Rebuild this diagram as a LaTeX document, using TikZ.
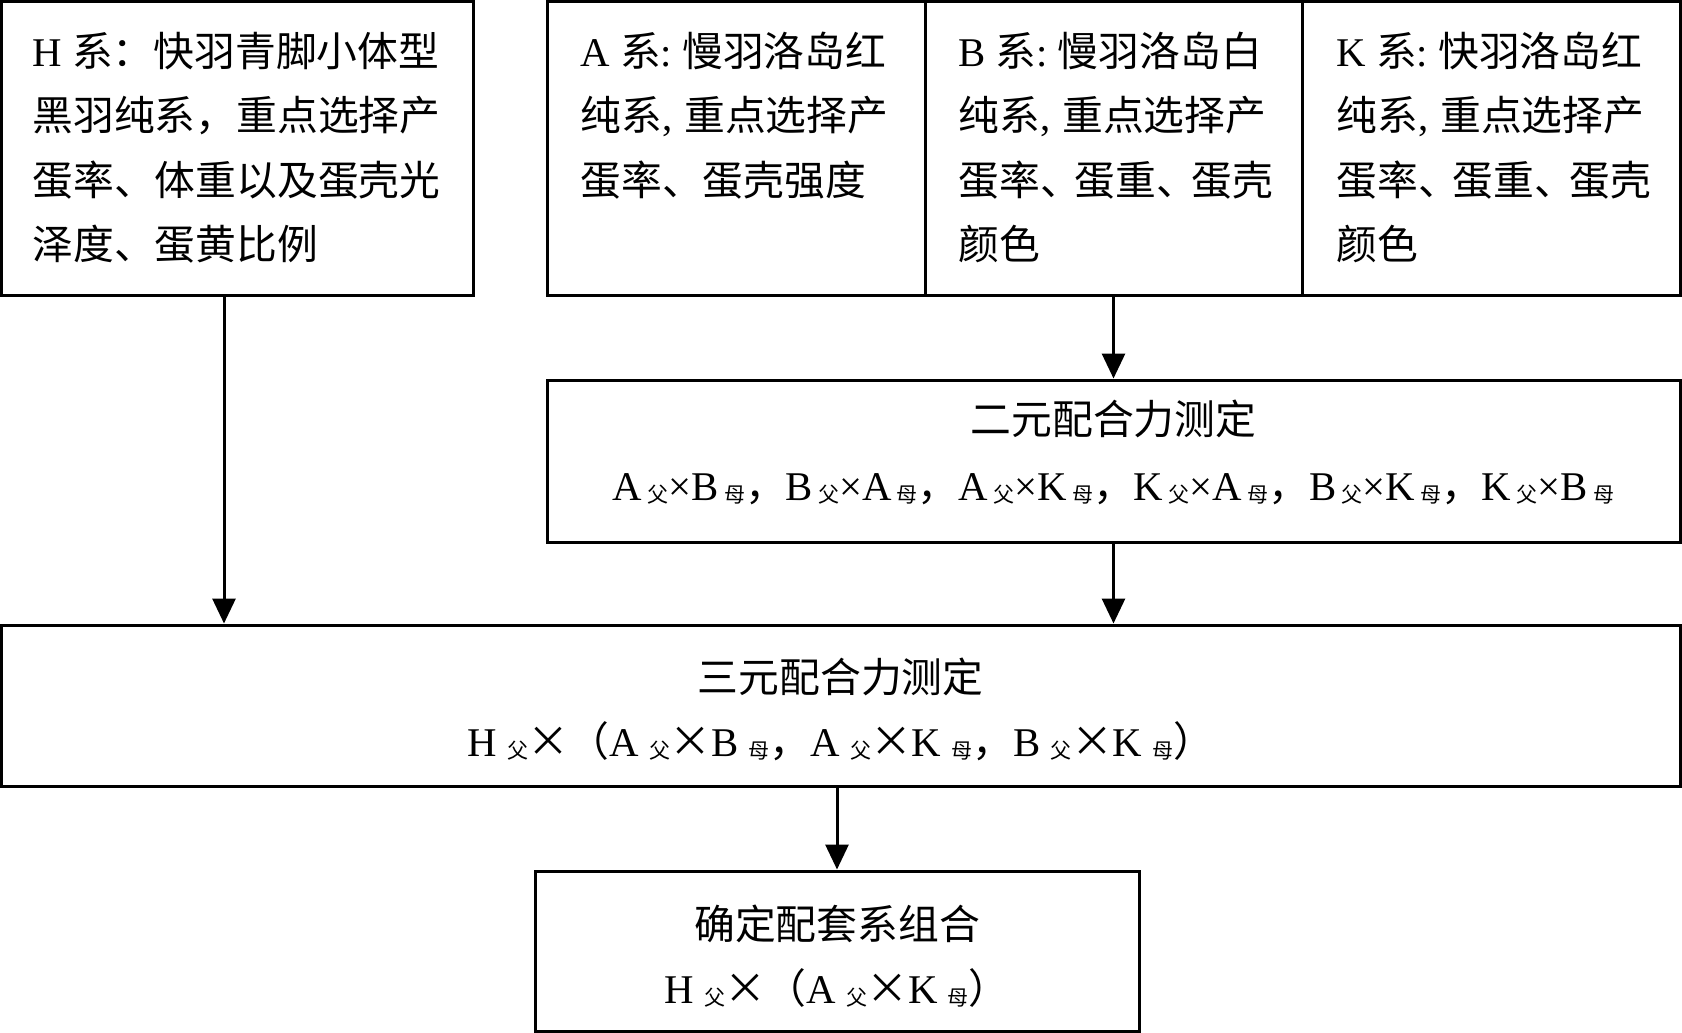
\documentclass[tikz,border=0pt]{standalone}
\usepackage{fontspec}
\setmainfont{Liberation Serif}
\newfontfamily\cjk{Noto Sans CJK SC}
\usetikzlibrary{arrows.meta}
\newcommand\zh[1]{{\cjk #1}}
\newcommand\sfu{\raisebox{-1.2pt}{\fontsize{10.5pt}{10.5pt}\selectfont\cjk 父}}
\newcommand\smu{\raisebox{-1.2pt}{\fontsize{10.5pt}{10.5pt}\selectfont\cjk 母}}
\newcommand\bigX{\makebox[20.4pt]{\fontsize{21pt}{21pt}\selectfont\cjk ×}}
\newcommand\tsp{\hspace{2.6pt}}
\tikzset{
  box/.style={draw, line width=1.5pt, inner sep=0pt, fill=none},
  txt/.style={anchor=base west, inner sep=0pt, font=\fontsize{20.4pt}{24pt}\selectfont},
  ctxt/.style={anchor=base, inner sep=0pt, font=\fontsize{20.4pt}{24pt}\selectfont},
  arr/.style={line width=1.5pt, -{Triangle[length=12.5pt,width=11.5pt]}}
}
\begin{document}
\begin{tikzpicture}[x=0.5pt,y=-0.5pt]
\useasboundingbox (0,0) rectangle (1682,1033);
% boxes
\node[box, minimum width=235.75pt, minimum height=146.75pt] (hbox) at (237.25,148.25) {};
\node[box, minimum width=189pt, minimum height=146.75pt] (abox) at (736,148.25) {};
\node[box, minimum width=188.5pt, minimum height=146.75pt] (bbox) at (1113.5,148.25) {};
\node[box, minimum width=189pt, minimum height=146.75pt] (kbox) at (1491,148.25) {};
\node[box, minimum width=566.5pt, minimum height=81pt] (bin) at (1113.5,461) {};
\node[box, minimum width=839.25pt, minimum height=80.5pt] (ter) at (840.75,705.5) {};
\node[box, minimum width=302pt, minimum height=80.25pt] (fin) at (837,951.25) {};
% H box text
\node[txt] (h1) at (32,66) {H \zh{系：快羽青脚小体型}};
\node[txt] (h2) at (32,130) {\zh{黑羽纯系，重点选择产}};
\node[txt] (h3) at (32,195) {\zh{蛋率、体重以及蛋壳光}};
\node[txt] (h4) at (32,259) {\zh{泽度、蛋黄比例}};
% A box text
\node[txt] (a1) at (580,66) {A \zh{系}:\hspace{5pt}\zh{慢羽洛岛红}};
\node[txt] (a2) at (580,130) {\zh{纯系},\hspace{6pt}\zh{重点选择产}};
\node[txt] (a3) at (580,195) {\zh{蛋率、蛋壳强度}};
% B box text
\node[txt] (b1) at (958,66) {B \zh{系}:\hspace{5pt}\zh{慢羽洛岛白}};
\node[txt] (b2) at (958,130) {\zh{纯系},\hspace{6pt}\zh{重点选择产}};
\node[txt] (b3) at (958,195) {\zh{蛋率、\hspace{-3pt}蛋重、\hspace{-3pt}蛋壳}};
\node[txt] (b4) at (958,259) {\zh{颜色}};
% K box text
\node[txt] (k1) at (1336,66) {K \zh{系}:\hspace{5pt}\zh{快羽洛岛红}};
\node[txt] (k2) at (1336,130) {\zh{纯系},\hspace{6pt}\zh{重点选择产}};
\node[txt] (k3) at (1336,195) {\zh{蛋率、\hspace{-3pt}蛋重、\hspace{-3pt}蛋壳}};
\node[txt] (k4) at (1336,259) {\zh{颜色}};
% binary
\node[ctxt] (bint) at (1113.5,434.5) {\zh{二元配合力测定}};
\node[ctxt] (binl) at (1113.5,500) {A\tsp\sfu×B\tsp\smu\zh{，}B\tsp\sfu×A\tsp\smu\zh{，}A\tsp\sfu×K\tsp\smu\zh{，}K\tsp\sfu×A\tsp\smu\zh{，}B\tsp\sfu×K\tsp\smu\zh{，}K\tsp\sfu×B\tsp\smu};
% ternary
\node[ctxt] (tert) at (840.75,692) {\zh{三元配合力测定}};
\node[ctxt] (terl) at (840.75,756) {H \sfu\bigX\zh{（}A \sfu\bigX B \smu\zh{，}A \sfu\bigX K \smu\zh{，}B \sfu\bigX K \smu\zh{）}};
% final
\node[ctxt] (fint) at (837,939) {\zh{确定配套系组合}};
\node[ctxt] (finl) at (837,1003) {H \sfu\bigX\zh{（}A \sfu\bigX K \smu\zh{）}};
% arrows
\coordinate (hx) at (224,0);
\draw[arr] (hx |- hbox.south) -- (hx |- ter.north);
\draw[arr] (bbox.south) -- (bin.north);
\draw[arr] (bin.south) -- (bin.south |- ter.north);
\draw[arr] (fin.north |- ter.south) -- (fin.north);
\end{tikzpicture}
\end{document}
